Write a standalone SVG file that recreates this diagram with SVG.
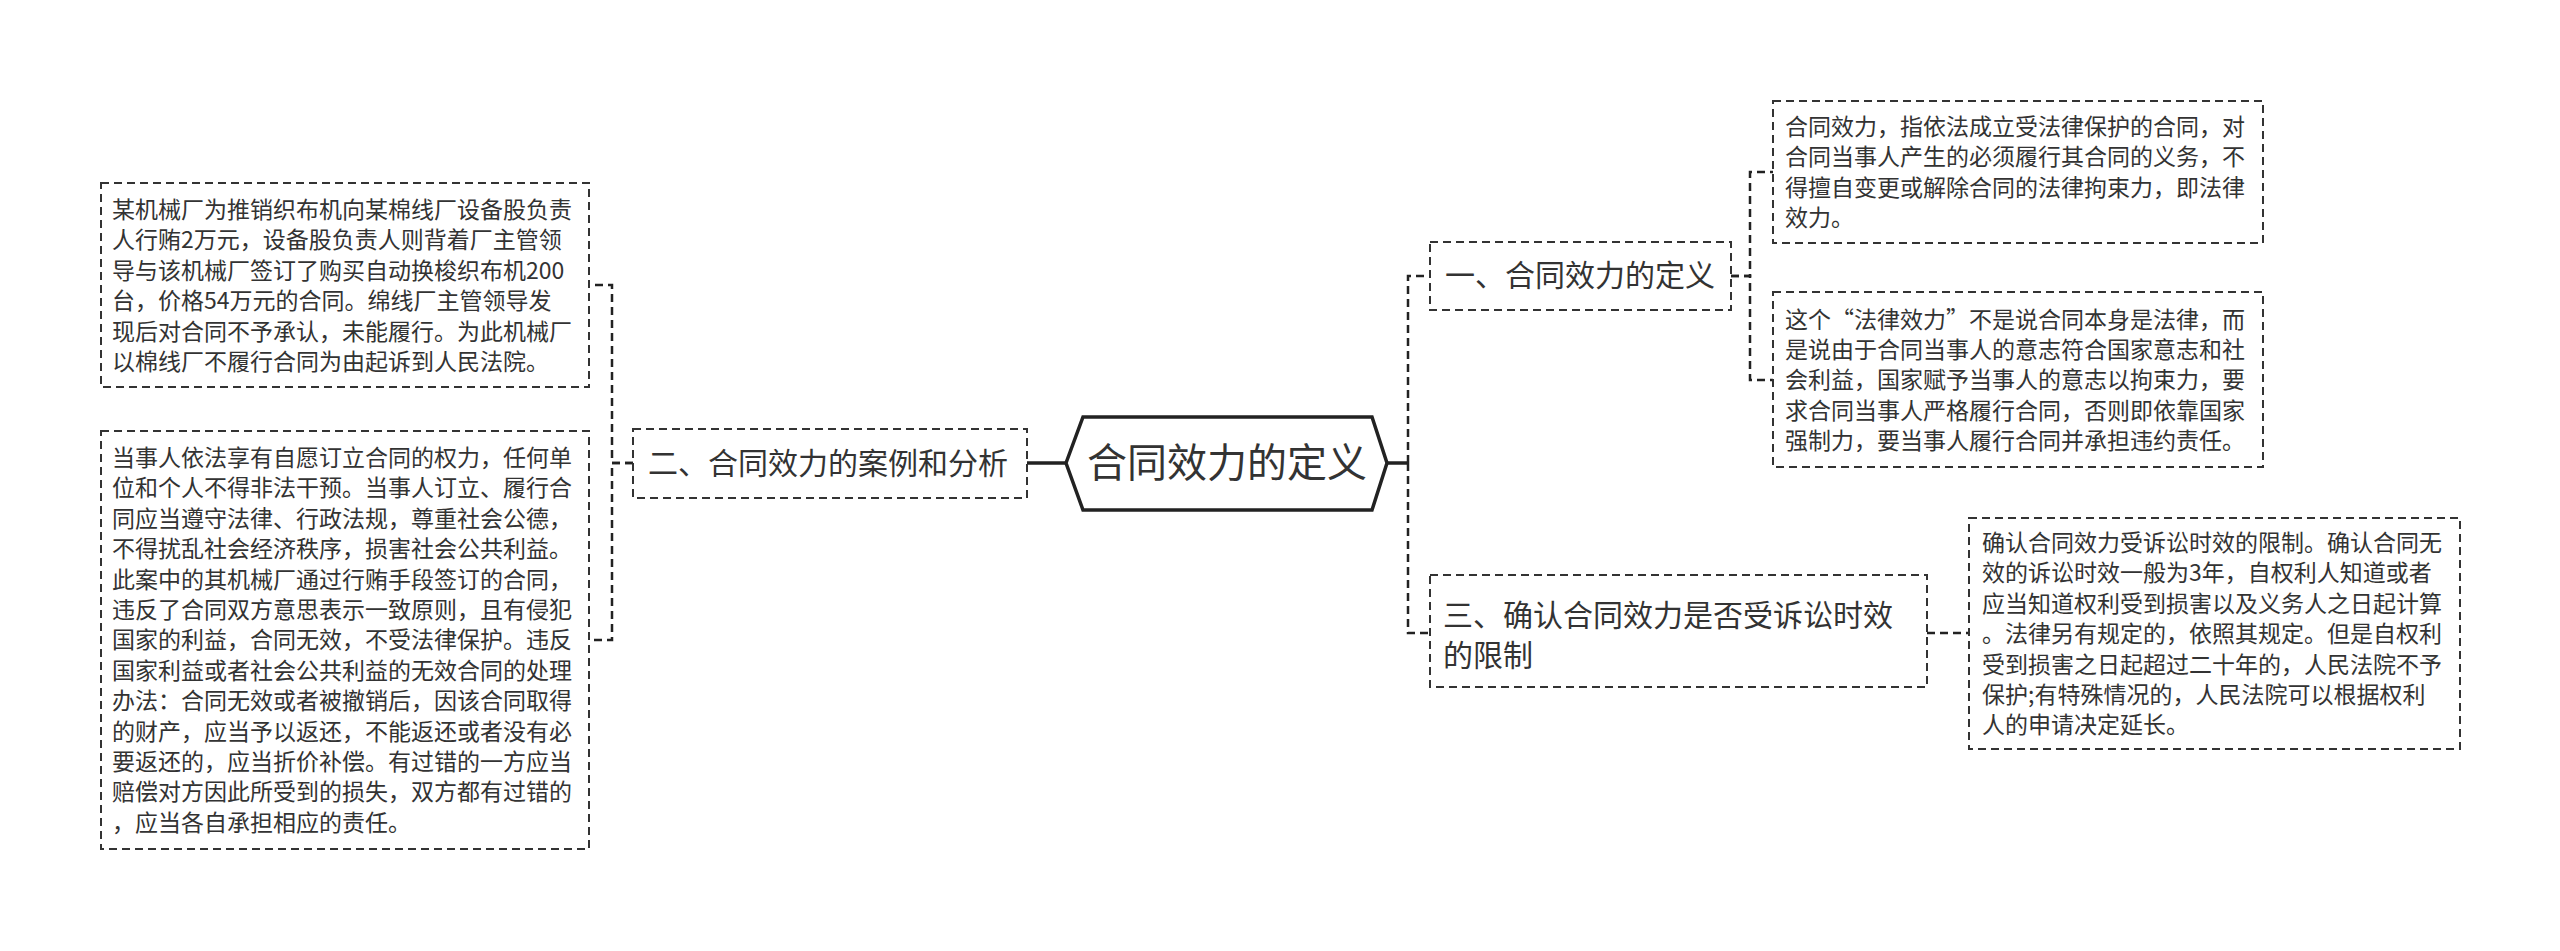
<svg xmlns="http://www.w3.org/2000/svg" width="2560" height="951" viewBox="0 0 2560 951">
<style>
.bg{fill:#ffffff}
.box{fill:#ffffff;stroke:#333333;stroke-width:2;stroke-dasharray:8 5}
.hex{fill:#ffffff;stroke:#222222;stroke-width:3.5}
.conn{fill:none;stroke:#222222;stroke-width:2.5;stroke-dasharray:8 5}
.solid{fill:none;stroke:#222222;stroke-width:3.5}
text{font-family:"Noto Sans CJK SC","Noto Sans",sans-serif;fill:#333333}
.t{font-size:23px}
.h{font-size:30px}
.c{font-size:40px}
</style>
<rect class="bg" x="0" y="0" width="2560" height="951"/>
<g id="connectors">
<path class="solid" d="M1027,463 H1066"/>
<path class="solid" d="M1387,463 H1408"/>
<path class="conn" d="M1408,463 V276 H1430"/>
<path class="conn" d="M1408,463 V633 H1430"/>
<path class="conn" d="M633,463 H612 V285 H590"/>
<path class="conn" d="M633,463 H612 V640 H590"/>
<path class="conn" d="M1731,276 H1750 V172 H1773"/>
<path class="conn" d="M1731,276 H1750 V380 H1773"/>
<path class="conn" d="M1927,633 H1969"/>
</g>
<g id="root">
<polygon class="hex" points="1066,463 1083,417 1372,417 1387,463 1372,510 1083,510"/>
<text class="c" x="1227" y="477" text-anchor="middle">合同效力的定义</text>
</g>
<g id="n1">
<rect class="box" x="1430" y="242" width="301" height="68"/>
<text class="h" x="1445" y="286">一、合同效力的定义</text>
</g>
<g id="n2">
<rect class="box" x="633" y="429" width="394" height="69"/>
<text class="h" x="648" y="474">二、合同效力的案例和分析</text>
</g>
<g id="n3">
<rect class="box" x="1430" y="575" width="497" height="112"/>
<text class="h" x="1443" y="626">三、确认合同效力是否受诉讼时效</text>
<text class="h" x="1443" y="666">的限制</text>
</g>
<g id="r1">
<rect class="box" x="1773" y="101" width="490" height="142"/>
<text class="t" x="1785" y="135">合同效力，指依法成立受法律保护的合同，对</text>
<text class="t" x="1785" y="165.4">合同当事人产生的必须履行其合同的义务，不</text>
<text class="t" x="1785" y="195.8">得擅自变更或解除合同的法律拘束力，即法律</text>
<text class="t" x="1785" y="226.2">效力。</text>
</g>
<g id="r2">
<rect class="box" x="1773" y="292" width="490" height="175"/>
<text class="t" x="1785" y="327.5">这个“法律效力”不是说合同本身是法律，而</text>
<text class="t" x="1785" y="357.9">是说由于合同当事人的意志符合国家意志和社</text>
<text class="t" x="1785" y="388.3">会利益，国家赋予当事人的意志以拘束力，要</text>
<text class="t" x="1785" y="418.7">求合同当事人严格履行合同，否则即依靠国家</text>
<text class="t" x="1785" y="449.1">强制力，要当事人履行合同并承担违约责任。</text>
</g>
<g id="r3">
<rect class="box" x="1969" y="518" width="491" height="231"/>
<text class="t" x="1982" y="551">确认合同效力受诉讼时效的限制。确认合同无</text>
<text class="t" x="1982" y="581.4">效的诉讼时效一般为3年，自权利人知道或者</text>
<text class="t" x="1982" y="611.8">应当知道权利受到损害以及义务人之日起计算</text>
<text class="t" x="1982" y="642.2">。法律另有规定的，依照其规定。但是自权利</text>
<text class="t" x="1982" y="672.6">受到损害之日起超过二十年的，人民法院不予</text>
<text class="t" x="1982" y="703">保护;有特殊情况的，人民法院可以根据权利</text>
<text class="t" x="1982" y="733.4">人的申请决定延长。</text>
</g>
<g id="l1">
<rect class="box" x="101" y="183" width="488" height="204"/>
<text class="t" x="112" y="218">某机械厂为推销织布机向某棉线厂设备股负责</text>
<text class="t" x="112" y="248.4">人行贿2万元，设备股负责人则背着厂主管领</text>
<text class="t" x="112" y="278.8">导与该机械厂签订了购买自动换梭织布机200</text>
<text class="t" x="112" y="309.2">台，价格54万元的合同。绵线厂主管领导发</text>
<text class="t" x="112" y="339.6">现后对合同不予承认，未能履行。为此机械厂</text>
<text class="t" x="112" y="370">以棉线厂不履行合同为由起诉到人民法院。</text>
</g>
<g id="l2">
<rect class="box" x="101" y="431" width="488" height="418"/>
<text class="t" x="112" y="466">当事人依法享有自愿订立合同的权力，任何单</text>
<text class="t" x="112" y="496.4">位和个人不得非法干预。当事人订立、履行合</text>
<text class="t" x="112" y="526.8">同应当遵守法律、行政法规，尊重社会公德，</text>
<text class="t" x="112" y="557.2">不得扰乱社会经济秩序，损害社会公共利益。</text>
<text class="t" x="112" y="587.6">此案中的其机械厂通过行贿手段签订的合同，</text>
<text class="t" x="112" y="618">违反了合同双方意思表示一致原则，且有侵犯</text>
<text class="t" x="112" y="648.4">国家的利益，合同无效，不受法律保护。违反</text>
<text class="t" x="112" y="678.8">国家利益或者社会公共利益的无效合同的处理</text>
<text class="t" x="112" y="709.2">办法：合同无效或者被撤销后，因该合同取得</text>
<text class="t" x="112" y="739.6">的财产，应当予以返还，不能返还或者没有必</text>
<text class="t" x="112" y="770">要返还的，应当折价补偿。有过错的一方应当</text>
<text class="t" x="112" y="800.4">赔偿对方因此所受到的损失，双方都有过错的</text>
<text class="t" x="112" y="830.8">，应当各自承担相应的责任。</text>
</g>
</svg>
